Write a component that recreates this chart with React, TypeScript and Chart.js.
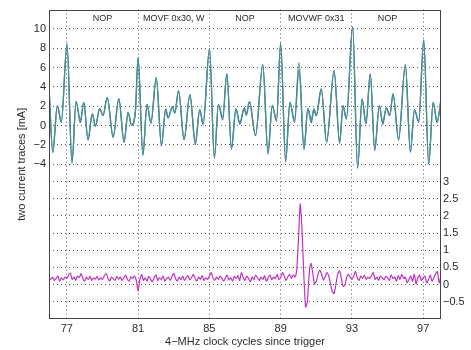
import React, { useEffect, useRef } from 'react';
import { Chart, registerables } from 'chart.js';

Chart.register(...registerables);

// ---- axis ticks / labels ----
const xTicks = [77, 81, 85, 89, 93, 97];
const leftTicks = [-4, -2, 0, 2, 4, 6, 8, 10];
const rightTicks = [-0.5, 0, 0.5, 1, 1.5, 2, 2.5, 3];
const instrLabels = ['NOP', 'MOVF 0x30, W', 'NOP', 'MOVWF 0x31', 'NOP'];
const instrCenters = [79, 83, 87, 91, 95];
const xTitle = '4\u2212MHz clock cycles since trigger';
const yTitle = 'two current traces [mA]';

// ---- two current traces (extrema) ----
const traceX = [
  76.0, 76.21, 76.47, 76.69, 77.01, 77.29, 77.52, 77.76, 77.95, 78.19,
  78.43, 78.6, 78.85, 79.03, 79.27, 79.6, 79.92, 80.21, 80.44, 80.63,
  80.85, 81.0, 81.27, 81.5, 81.72, 82.02, 82.31, 82.55, 82.68, 82.93,
  83.06, 83.27, 83.58, 83.91, 84.21, 84.46, 84.65, 85.01, 85.28, 85.51,
  85.75, 85.98, 86.24, 86.49, 86.71, 86.96, 87.07, 87.25, 87.59, 88.0,
  88.29, 88.53, 88.77, 89.0, 89.28, 89.52, 89.78, 90.03, 90.31, 90.53,
  90.72, 90.87, 91.0, 91.28, 91.58, 92.0, 92.31, 92.5, 92.69, 93.04,
  93.32, 93.57, 93.79, 94.03, 94.28, 94.54, 94.73, 94.93, 95.12, 95.31,
  95.62, 96.0, 96.28, 96.51, 96.75, 97.03, 97.31, 97.56, 97.78, 98.0,
];
const greenY = [
  3.9, -2.6, 2.07, 0.34, 8.45, -3.8, 2.5, 0.52, 2.41, -1.38,
  1.2, -0.05, 1.75, 1.05, 2.9, -1.2, 2.8, -1.62, 1.38, 0.05,
  1.5, 7.05, -3.0, 2.2, 0.4, 4.95, -1.97, 1.7, 0.8, 1.97,
  1.3, 3.62, -1.45, 3.2, -1.75, 1.65, 0.25, 7.97, -3.3, 2.2,
  0.9, 5.37, -2.28, 1.72, 0.34, 1.83, 1.1, 2.48, -1.03, 6.3,
  -2.76, 2.07, 0.59, 8.52, -3.62, 2.41, 0.52, 6.55, -2.31, 1.79,
  0.59, 1.72, 1.03, 3.79, -1.62, 5.69, -1.72, 2.07, 0.69, 10.24,
  -4.31, 2.76, 0.34, 5.34, -2.41, 2.07, 0.34, 1.83, 1.03, 3.28,
  -1.38, 6.31, -2.59, 1.62, 0.52, 8.86, -3.9, 2.41, 0.45, 2.66,
];
const blueY = [
  3.9, -2.8, 2.07, 0.34, 8.45, -3.9, 2.5, 0.3, 2.41, -1.5,
  1.2, -0.05, 1.75, 1.05, 2.9, -1.2, 2.8, -1.75, 1.38, 0.05,
  1.5, 7.05, -3.1, 2.2, 0.2, 4.95, -2.1, 1.7, 0.8, 1.97,
  1.3, 3.62, -1.45, 3.2, -1.95, 1.65, 0.1, 7.97, -3.4, 2.2,
  0.6, 5.37, -2.45, 1.72, 0.15, 1.83, 1.1, 2.48, -1.03, 6.3,
  -2.95, 2.07, 0.45, 8.52, -3.75, 2.41, 0.35, 5.8, -2.5, 1.79,
  0.3, 1.72, 1.03, 3.79, -1.75, 5.69, -1.85, 2.07, 0.69, 10.24,
  -4.4, 2.76, 0.15, 5.34, -2.6, 2.07, 0.15, 1.83, 1.03, 3.28,
  -1.5, 6.31, -2.75, 1.62, 0.35, 8.86, -4.0, 2.41, 0.3, 2.66,
];

// ---- magenta trace, sampled every 0.1 clock cycle from 76 ----
const magStart = 76;
const magStep = 0.1;
const magentaY = [
  0.2, 0.15, 0.22, 0.12, 0.18, 0.25, 0.1, 0.2, 0.14, 0.22,
  0.18, 0.28, 0.33, 0.15, 0.22, 0.12, 0.25, 0.2, 0.32, 0.18,
  0.1, 0.22, 0.15, 0.25, 0.12, 0.2, 0.16, 0.24, 0.13, 0.2,
  0.15, 0.25, 0.33, 0.2, 0.1, 0.22, 0.18, 0.12, 0.24, 0.16,
  0.22, 0.12, 0.2, 0.28, 0.15, 0.1, 0.23, 0.18, 0.25, 0.12,
  -0.18, 0.15, 0.3, 0.12, 0.2, 0.1, 0.24, 0.16, 0.08, 0.2,
  0.28, 0.12, 0.2, 0.15, 0.25, 0.1, 0.18, 0.22, 0.12, 0.24,
  0.33, 0.18, 0.1, 0.22, 0.15, 0.25, 0.12, 0.2, 0.26, 0.14,
  0.2, 0.3, 0.18, 0.1, 0.22, 0.16, 0.26, 0.12, 0.2, 0.15,
  0.25, 0.35, 0.2, 0.12, 0.22, 0.15, 0.25, 0.18, 0.1, 0.2,
  0.28, 0.14, 0.2, 0.1, 0.24, 0.18, 0.26, 0.12, 0.35, 0.2,
  0.12, 0.25, 0.18, 0.08, 0.22, 0.15, 0.28, 0.2, 0.12, 0.22,
  0.15, 0.26, 0.1, 0.2, 0.28, 0.14, 0.22, 0.18, 0.3, 0.15,
  0.2, 0.35, 0.25, 0.12, 0.22, 0.3, 0.18, 0.28, 0.22, 0.4,
  1.3, 2.35, 1.6, 0.3, -0.65, -0.5, 0.3, 0.62, 0.35, 0.02,
  0.1, 0.3, 0.42, 0.3, 0.14, 0.22, 0.35, 0.25, 0.02, -0.2,
  -0.26, 0.0, 0.3, 0.4, 0.2, -0.05, -0.02, 0.2, 0.3, 0.22,
  0.15, 0.25, 0.38, 0.2, 0.12, 0.25, 0.18, 0.28, 0.15, 0.22,
  0.18, 0.26, 0.35, 0.15, 0.22, 0.12, 0.25, 0.2, 0.14, 0.24,
  0.2, 0.12, 0.28, 0.18, 0.22, 0.1, 0.26, 0.15, 0.3, 0.18,
  0.22, 0.05, 0.15, 0.25, 0.1, 0.3, 0.02, 0.2, 0.28, 0.12,
  0.2, 0.25, 0.05, 0.15, 0.28, 0.1, 0.2, 0.32, 0.38, 0.05,
  0.25,
];

const FONT = '"Liberation Sans", Arial, Helvetica, sans-serif';
const TEXT = '#2a2a2a';
const GRID = '#555555';

const fmt = (v: number) => (v < 0 ? '\u2212' + String(Math.abs(v)) : String(v));

const overlayPlugin = {
  id: 'overlay',
  afterDraw(chart: any) {
    const { ctx, chartArea: a, scales } = chart;
    ctx.save();
    ctx.strokeStyle = '#444444';
    ctx.lineWidth = 1;
    ctx.strokeRect(Math.round(a.left) + 0.5, Math.round(a.top) + 0.5,
      Math.round(a.right - a.left) - 1, Math.round(a.bottom - a.top) - 1);
    ctx.font = '9px ' + FONT;
    ctx.fillStyle = TEXT;
    ctx.textAlign = 'center';
    ctx.textBaseline = 'middle';
    instrLabels.forEach((t, i) => {
      ctx.fillText(t, scales.x.getPixelForValue(instrCenters[i]), a.top + 9);
    });
    ctx.restore();
  },
};

export default function App() {
  const ref = useRef<HTMLCanvasElement | null>(null);

  useEffect(() => {
    if (!ref.current) return;
    const green = traceX.map((x, i) => ({ x, y: greenY[i] }));
    const blue = traceX.map((x, i) => ({ x, y: blueY[i] }));
    const magenta = magentaY.map((y, i) => ({ x: Math.round((magStart + i * magStep) * 100) / 100, y }));

    const grid = { color: GRID, lineWidth: 1, drawTicks: false };
    const border = { display: false, dash: [1, 3] };

    const chart = new Chart(ref.current, {
      type: 'line',
      data: {
        datasets: [
          { data: green, borderColor: '#48967f', borderWidth: 1.3, pointRadius: 0, cubicInterpolationMode: 'monotone', yAxisID: 'yL' },
          { data: blue, borderColor: '#4262cf', borderWidth: 1.3, pointRadius: 0, cubicInterpolationMode: 'monotone', yAxisID: 'yL' },
          { data: magenta, borderColor: '#bf35c2', borderWidth: 1.2, pointRadius: 0, tension: 0.2, yAxisID: 'yR' },
        ],
      },
      options: {
        animation: false,
        responsive: true,
        maintainAspectRatio: false,
        layout: { padding: { top: 9, left: 0, right: 0, bottom: 0 } },
        plugins: { legend: { display: false }, tooltip: { enabled: false } },
        scales: {
          x: {
            type: 'linear',
            min: 76,
            max: 98,
            grid,
            border,
            afterBuildTicks: (s: any) => { s.ticks = xTicks.map((v) => ({ value: v })); },
            afterFit: (s: any) => { s.height = 31; },
            ticks: { padding: 3, color: TEXT, font: { family: FONT, size: 11 }, callback: (v: any) => fmt(Number(v)), maxRotation: 0 },
            title: { display: true, text: xTitle, color: TEXT, font: { family: FONT, size: 11 }, padding: { top: 0, bottom: 1 } },
          },
          yL: {
            type: 'linear',
            position: 'left',
            min: -20,
            max: 12,
            grid,
            border,
            afterBuildTicks: (s: any) => { s.ticks = leftTicks.map((v) => ({ value: v })); },
            afterFit: (s: any) => { s.width = 49; },
            ticks: { padding: 3, color: TEXT, font: { family: FONT, size: 11 }, callback: (v: any) => fmt(Number(v)) },
            title: { display: true, text: yTitle, color: TEXT, font: { family: FONT, size: 11 }, padding: { top: 15, bottom: 0 } },
          },
          yR: {
            type: 'linear',
            position: 'right',
            min: -1,
            max: 8,
            grid,
            border,
            afterBuildTicks: (s: any) => { s.ticks = rightTicks.map((v) => ({ value: v })); },
            afterFit: (s: any) => { s.width = 30; },
            ticks: { padding: 2, color: TEXT, font: { family: FONT, size: 11 }, callback: (v: any) => fmt(Number(v)) },
          },
        },
      },
      plugins: [overlayPlugin],
    } as any);
    return () => chart.destroy();
  }, []);

  return (
    <div style={{ position: 'fixed', left: 0, top: 0, width: 471, height: 350, background: '#fff' }}>
      <canvas ref={ref} />
    </div>
  );
}
